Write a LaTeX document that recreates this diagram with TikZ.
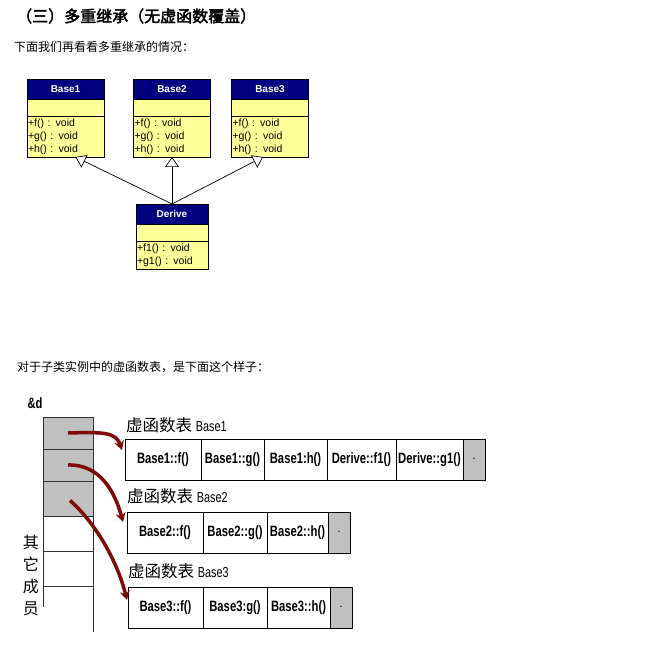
\documentclass[tikz,border=0pt]{standalone}
\usepackage{fontspec}
\setmainfont{Liberation Sans}
\newfontfamily\cjk{Noto Sans CJK SC}
\newfontfamily\cjkheavy[FakeBold=2.5]{Noto Sans CJK SC}
\newfontfamily\narrow[FakeStretch=0.75]{Liberation Sans}
\usetikzlibrary{positioning, arrows.meta}
\definecolor{uml-navy}{HTML}{000080}
\definecolor{uml-yellow}{HTML}{FFFF99}
\definecolor{cell-grey}{HTML}{C0C0C0}
\definecolor{ptr-red}{HTML}{7F0A0A}

\tikzset{
  umlhead/.style={draw, fill=uml-navy, text=white, font=\bfseries\fontsize{10}{12}\selectfont,
                  minimum width=77pt, minimum height=20pt, inner sep=0pt, outer sep=0pt},
  umlattr/.style={draw, fill=uml-yellow, minimum width=77pt, minimum height=17pt,
                  inner sep=0pt, outer sep=0pt},
  umlops/.style={draw, fill=uml-yellow, text width=75pt, align=left, inner sep=1pt,
                 outer sep=0pt, font=\fontsize{10.5}{13}\selectfont},
  inherit/.style={-{Triangle[length=10pt, width=14pt, fill=white]}, line width=0.7pt},
  vcell/.style={draw, line width=1pt, minimum height=41pt, inner sep=0pt, outer sep=0pt,
                font=\narrow\bfseries\fontsize{15}{17}\selectfont},
  vend/.style={vcell, fill=cell-grey, minimum width=22pt, font=\fontsize{5}{5}\selectfont},
  vlabel/.style={anchor=west, inner sep=0pt, font=\cjk\fontsize{16.5}{18}\selectfont},
  memcell/.style={draw=black!80, line width=1pt, minimum width=50pt, inner sep=0pt, outer sep=0pt},
  ptr/.style={draw=ptr-red, line width=3.5pt, -{Stealth[length=9pt, width=10pt]}}
}

\begin{document}
\begin{tikzpicture}[x=1pt, y=-1pt]
  \useasboundingbox (0,0) rectangle (666,652);

  \node[font=\cjkheavy\fontsize{16}{18}\selectfont, anchor=west, inner sep=0pt] (title)
    at (16,16) {（三）多重继承（无虚函数覆盖）};
  \node[font=\cjk\fontsize{12}{14}\selectfont, anchor=west, inner sep=0pt] (intro)
    at (14,47) {下面我们再看看多重继承的情况：};

  \node[umlhead, anchor=north] (b1head) at (65.5,79) {Base1};
  \node[umlattr, below=0pt of b1head] (b1attr) {};
  \node[umlops, minimum height=41pt, below=0pt of b1attr] (b1ops) {+f() : void\\+g() : void\\+h() : void};

  \node[umlhead, anchor=north] (b2head) at (172,79) {Base2};
  \node[umlattr, below=0pt of b2head] (b2attr) {};
  \node[umlops, minimum height=41pt, below=0pt of b2attr] (b2ops) {+f() : void\\+g() : void\\+h() : void};

  \node[umlhead, anchor=north] (b3head) at (270,79) {Base3};
  \node[umlattr, below=0pt of b3head] (b3attr) {};
  \node[umlops, minimum height=41pt, below=0pt of b3attr] (b3ops) {+f() : void\\+g() : void\\+h() : void};

  \node[umlhead, minimum width=72pt, anchor=north] (dhead) at (172,204) {Derive};
  \node[umlattr, minimum width=72pt, below=0pt of dhead] (dattr) {};
  \node[umlops, text width=70pt, minimum height=28pt, below=0pt of dattr] (dops) {+f1() : void\\+g1() : void};

  \draw[inherit] (dhead.north) -- ([xshift=10pt]b1ops.south);
  \draw[inherit] (dhead.north) -- (b2ops.south);
  \draw[inherit] (dhead.north) -- ([xshift=-7pt]b3ops.south);

  \node[font=\cjk\fontsize{12}{14}\selectfont, anchor=west, inner sep=0pt] (layout)
    at (17,367) {对于子类实例中的虚函数表，是下面这个样子：};

  \node[font=\narrow\bfseries\fontsize{15}{17}\selectfont] (addr) at (35,403) {\&d};
  \node[memcell, fill=cell-grey, minimum height=32pt, anchor=north west] (m1) at (43,417) {};
  \node[memcell, fill=cell-grey, minimum height=32pt, below=0pt of m1] (m2) {};
  \node[memcell, fill=cell-grey, minimum height=35pt, below=0pt of m2] (m3) {};
  \node[memcell, minimum height=35pt, below=0pt of m3] (m4) {};
  \node[memcell, minimum height=35pt, below=0pt of m4] (m5) {};
  \draw[draw=black!80, line width=1pt] (m5.south west) -- ++(0,21);
  \draw[draw=black!80, line width=1pt] (m5.south east) -- ++(0,46);
  \node[font=\cjk\fontsize{16}{22}\selectfont, align=center, inner sep=0pt] (other)
    at (31,575) {其\\它\\成\\员};

  \node[vlabel] (vt1label) at (126,425) {虚函数表 {\narrow\fontsize{14.5}{16}\selectfont Base1}};
  \node[vcell, minimum width=76pt, anchor=north west] (t1a) at (125,439) {Base1::f()};
  \node[vcell, minimum width=63pt, right=0pt of t1a] (t1b) {Base1::g()};
  \node[vcell, minimum width=63pt, right=0pt of t1b] (t1c) {Base1:h()};
  \node[vcell, minimum width=69pt, right=0pt of t1c] (t1d) {Derive::f1()};
  \node[vcell, minimum width=67pt, right=0pt of t1d] (t1e) {Derive::g1()};
  \node[vend, right=0pt of t1e] (t1f) {\textbullet};

  \node[vlabel] (vt2label) at (127,496) {虚函数表 {\narrow\fontsize{14.5}{16}\selectfont Base2}};
  \node[vcell, minimum width=76pt, anchor=north west] (t2a) at (127,512) {Base2::f()};
  \node[vcell, minimum width=64pt, right=0pt of t2a] (t2b) {Base2::g()};
  \node[vcell, minimum width=61pt, right=0pt of t2b] (t2c) {Base2::h()};
  \node[vend, right=0pt of t2c] (t2d) {\textbullet};

  \node[vlabel] (vt3label) at (128,571) {虚函数表 {\narrow\fontsize{14.5}{16}\selectfont Base3}};
  \node[vcell, minimum width=75pt, anchor=north west] (t3a) at (128,587) {Base3::f()};
  \node[vcell, minimum width=64pt, right=0pt of t3a] (t3b) {Base3:g()};
  \node[vcell, minimum width=63pt, right=0pt of t3b] (t3c) {Base3::h()};
  \node[vend, right=0pt of t3c] (t3d) {\textbullet};

  \draw[ptr] (m1.center) .. controls +(35,-1) and +(-6,-18) .. ([xshift=-3pt,yshift=-11pt]t1a.north west);
  \draw[ptr] (m2.center) .. controls +(32,-1) and +(-8,-30) .. ([xshift=-4pt,yshift=-10pt]t2a.north west);
  \draw[ptr] ([xshift=2pt,yshift=-2pt]m3.center) .. controls +(25,22) and +(-10,-40) .. ([xshift=-1pt,yshift=-13pt]t3a.north west);
\end{tikzpicture}
\end{document}
